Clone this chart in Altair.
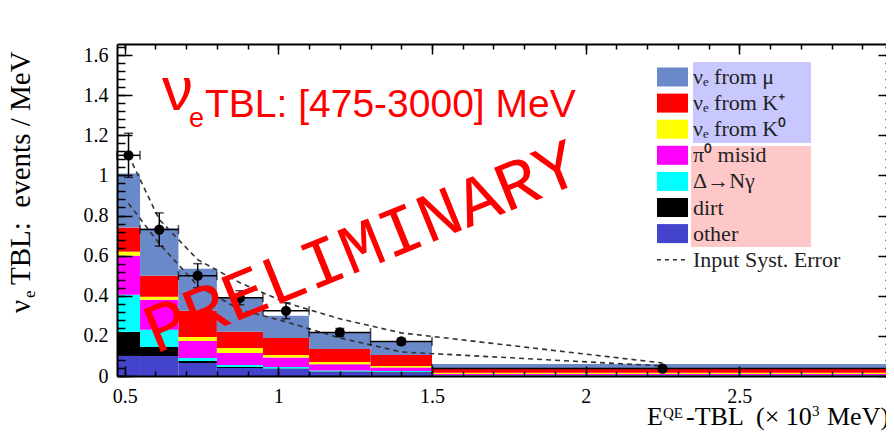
import altair as alt
import pandas as pd

# ---------------- data ----------------
bin_lo = [0.475, 0.55, 0.675, 0.80, 0.95, 1.10, 1.30, 1.50]
bin_hi = [0.55, 0.675, 0.80, 0.95, 1.10, 1.30, 1.50, 3.00]

# stack order bottom -> top
components = ["other", "dirt", "Δ→Nγ", "π⁰ misid", "νₑ from K⁰", "νₑ from K⁺", "νₑ from μ"]
comp_colors = ["#4343cc", "#000000", "#00ffff", "#ff00ff", "#ffff00", "#ff0000", "#6a89c9"]

other  = [0.100, 0.100, 0.065, 0.040, 0.035, 0.020, 0.018, 0.003]
dirt   = [0.120, 0.045, 0.010, 0.005, 0.003, 0.002, 0.002, 0.001]
delta  = [0.185, 0.085, 0.015, 0.010, 0.007, 0.006, 0.005, 0.001]
pi0    = [0.195, 0.150, 0.085, 0.060, 0.047, 0.030, 0.017, 0.005]
nue_k0 = [0.020, 0.015, 0.020, 0.025, 0.013, 0.012, 0.008, 0.006]
nue_kp = [0.120, 0.105, 0.130, 0.080, 0.085, 0.065, 0.055, 0.024]
nue_mu = [0.270, 0.235, 0.210, 0.170, 0.110, 0.080, 0.070, 0.020]

data_val = [1.10, 0.73, 0.50, 0.39, 0.325, 0.217, 0.172, 0.037]
data_err = [0.11, 0.083, 0.06, 0.035, 0.04, 0.02, 0.015, 0.005]

syst_upper = [1.10, 0.78, 0.58, 0.465, 0.365, 0.285, 0.215, 0.065]
syst_lower = [0.86, 0.66, 0.45, 0.33, 0.27, 0.19, 0.12, 0.05]

x_major = [0.5, 1.0, 1.5, 2.0, 2.5, 3.0]
x_minor = [round(0.5 + 0.1 * i, 2) for i in range(26)]
y_major = [0, 0.2, 0.4, 0.6, 0.8, 1.0, 1.2, 1.4, 1.6]
y_minor = [round(0.04 * i, 2) for i in range(42)]

legend_labels = ["νₑ from μ", "νₑ from K⁺", "νₑ from K⁰", "π⁰ misid", "Δ→Nγ", "dirt", "other"]
legend_colors = ["#6a89c9", "#ff0000", "#ffff00", "#ff00ff", "#00ffff", "#000000", "#4343cc"]

# ---------------- layout ----------------
W_VIEW = 769              # visible part of the plot (page ends here)
W_RANGE = 776             # full x range of the frame (runs past the page edge)
H = 332
X0, Y0 = 117, 44          # page position of the plot area
SERIF = "Liberation Serif"
SANS = "Liberation Sans"
RED = "#ff0000"
NB = "\u00a0"

xs = alt.Scale(domain=[0.475, 3.0], range=[0, W_RANGE], nice=False, zero=False)
ys = alt.Scale(domain=[0.0, 1.655], nice=False, zero=False)

# ---------------- tables ----------------
rows = []
series = [other, dirt, delta, pi0, nue_k0, nue_kp, nue_mu]
for i in range(len(bin_lo)):
    base = 0.0
    for name, vals in zip(components, series):
        rows.append(dict(lo=bin_lo[i], hi=bin_hi[i], y0=base, y1=base + vals[i], comp=name))
        base += vals[i]
stack_df = pd.DataFrame(rows)

pts = pd.DataFrame({
    "lo": bin_lo, "hi": bin_hi,
    "center": [(a + b) / 2 for a, b in zip(bin_lo, bin_hi)],
    "y": data_val,
    "ylo": [v - e for v, e in zip(data_val, data_err)],
    "yhi": [v + e for v, e in zip(data_val, data_err)],
})

syst_df = pd.concat([
    pd.DataFrame({"center": pts["center"], "val": syst_upper, "band": "upper"}),
    pd.DataFrame({"center": pts["center"], "val": syst_lower, "band": "lower"}),
])


def X(field, axis=None):
    return alt.X(field, scale=xs, axis=axis)


def Y(field, axis=None):
    return alt.Y(field, scale=ys, axis=axis)


# ---------------- layers ----------------
bars = alt.Chart(stack_df).mark_rect().encode(
    x=X("lo:Q", alt.Axis(orient="bottom", values=x_major, format="~g", ticks=False, domain=False,
                         grid=False, labelFont=SERIF, labelFontSize=20, labelColor="black",
                         labelPadding=10, labelFlush=False, labelOverlap=False, title=None)),
    x2="hi:Q",
    y=Y("y0:Q", alt.Axis(orient="left", values=y_major, format="~g", ticks=False, domain=False,
                         grid=False, labelFont=SERIF, labelFontSize=20, labelColor="black",
                         labelPadding=9, labelOverlap=False, title=None)),
    y2="y1:Q",
    color=alt.Color("comp:N", scale=alt.Scale(domain=components, range=comp_colors), legend=None),
)

syst = alt.Chart(syst_df).mark_line(strokeDash=[5, 4], color="#333333", strokeWidth=1.6).encode(
    x=X("center:Q"), y=Y("val:Q"), detail="band:N")

base_pts = alt.Chart(pts)
hbar = base_pts.mark_rule(color="black", strokeWidth=1.5).encode(x=X("lo:Q"), x2="hi:Q", y=Y("y:Q"))
vbar = base_pts.mark_rule(color="black", strokeWidth=1.5).encode(x=X("center:Q"), y=Y("ylo:Q"), y2="yhi:Q")
cap_l = base_pts.mark_tick(orient="vertical", size=9, thickness=1.5, color="black").encode(x=X("lo:Q"), y=Y("y:Q"))
cap_r = base_pts.mark_tick(orient="vertical", size=9, thickness=1.5, color="black").encode(x=X("hi:Q"), y=Y("y:Q"))
cap_b = base_pts.mark_tick(orient="horizontal", size=9, thickness=1.5, color="black").encode(x=X("center:Q"), y=Y("ylo:Q"))
cap_t = base_pts.mark_tick(orient="horizontal", size=9, thickness=1.5, color="black").encode(x=X("center:Q"), y=Y("yhi:Q"))
dots = base_pts.mark_circle(size=105, color="black", opacity=1).encode(x=X("center:Q"), y=Y("y:Q"))


def tick_layer(xorient, yorient, xvals, yvals, xsize, ysize, domain):
    # inward ticks: an axis moved to the opposite side of the frame
    yoff = -W_VIEW if yorient == "right" else -W_RANGE
    ax = alt.Axis(orient=xorient, offset=-H, values=xvals, labels=False, ticks=True, tickSize=xsize,
                  tickWidth=1.5, tickColor="black", domain=domain, domainColor="black", domainWidth=2,
                  grid=False, title=None, zindex=2)
    ay = alt.Axis(orient=yorient, offset=yoff, values=yvals, labels=False, ticks=True, tickSize=ysize,
                  tickWidth=1.5, tickColor="black", domain=domain, domainColor="black", domainWidth=2,
                  grid=False, title=None, zindex=2)
    return base_pts.mark_point(opacity=0, size=1).encode(x=X("center:Q", ax), y=Y("y:Q", ay))


ticks = [
    tick_layer("top", "right", x_major, y_major, 10, 15, True),
    tick_layer("bottom", "left", x_major, y_major, 10, 15, True),
    tick_layer("top", "right", x_minor, y_minor, 5, 8, False),
    tick_layer("bottom", "left", x_minor, y_minor, 5, 8, False),
]


def txt(text, px, py, size, font, color, align="left", baseline="alphabetic", angle=0):
    return alt.Chart(pd.DataFrame({"t": [text]})).mark_text(
        align=align, baseline=baseline, font=font, fontSize=size, color=color, angle=angle).encode(
        x=alt.value(px - X0), y=alt.value(py - Y0), text="t:N")


def box(x1, y1, x2, y2, color):
    return alt.Chart(pd.DataFrame({"a": [0]})).mark_rect(color=color).encode(
        x=alt.value(x1 - X0), x2=alt.value(x2 - X0), y=alt.value(y1 - Y0), y2=alt.value(y2 - Y0))


annotations = [
    # big red title
    txt("ν", 162, 110, 62, SANS, RED),
    txt("e", 189, 127, 27, SANS, RED),
    txt("TBL: [475-3000] MeV", 205, 117, 39, SANS, RED),
    # watermark
    txt("PRELIMINARY", 362, 248, 70, "Liberation Mono", RED, align="center", baseline="middle", angle=338),
    # y title
    txt("ν", 30, 313, 29, SERIF, "black", angle=270),
    txt("e", 35, 298, 17, SERIF, "black", angle=270),
    txt("TBL:" + NB + NB + "events / MeV", 30, 285, 29, SERIF, "black", angle=270),
    # x title
    txt("E", 647, 425, 26, SERIF, "black"),
    txt("QE", 663, 418, 15, SERIF, "black"),
    txt("-TBL", 686, 425, 26, SERIF, "black"),
    txt("(× 10", 756, 425, 26, SERIF, "black"),
    txt("3", 812, 416, 15, SERIF, "black"),
    txt("MeV)", 827, 425, 26, SERIF, "black"),
]

legend = [box(693, 62, 811, 143, "#c8c8ff"), box(691, 146, 811, 247, "#ffc8c8")]
for i, (lab, col) in enumerate(zip(legend_labels, legend_colors)):
    yc = 77 + 26.1 * i
    legend.append(box(657, yc - 9.5, 688, yc + 9.5, col))
    legend.append(txt(lab, 693, yc, 22, SERIF, "#222222", baseline="middle"))
yd = 77 + 26.1 * 7
legend.append(alt.Chart(pd.DataFrame({"a": [0]})).mark_rule(strokeDash=[4, 4], color="#333333", strokeWidth=1.6).encode(
    x=alt.value(657 - X0), x2=alt.value(688 - X0), y=alt.value(yd - Y0)))
legend.append(txt("Input Syst. Error", 693, yd, 22, SERIF, "#222222", baseline="middle"))

chart = alt.layer(
    bars, syst, hbar, vbar, cap_l, cap_r, cap_b, cap_t, dots, *ticks, *annotations, *legend
).properties(
    width=W_VIEW, height=H,
    padding={"left": X0 - 8, "top": Y0 - 8, "right": 0, "bottom": 439 - Y0 - H},
    autosize=alt.AutoSizeParams(type="none"),
).resolve_axis(x="independent", y="independent").configure_view(strokeWidth=0)

chart.save("out.html", embed_options={"renderer": "svg", "actions": False})
